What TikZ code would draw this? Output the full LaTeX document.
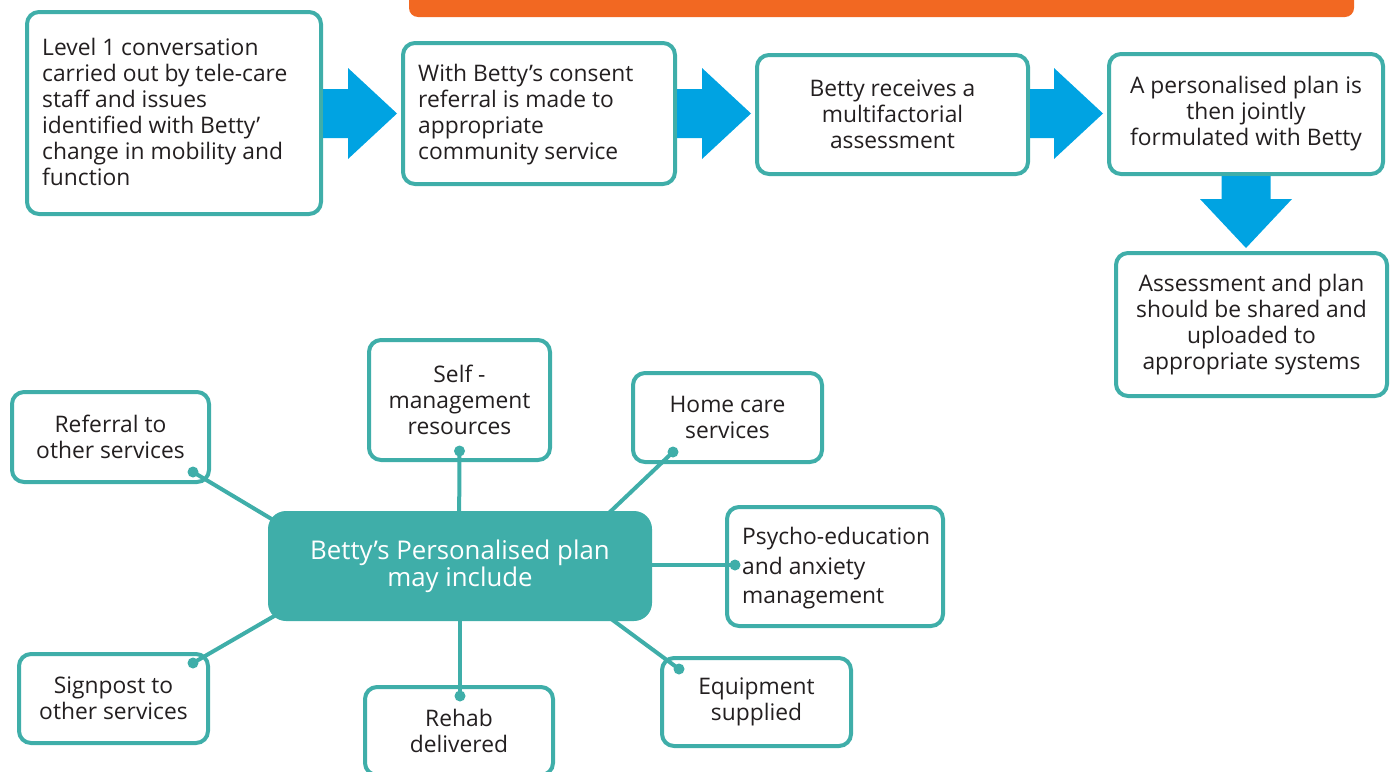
\documentclass[tikz,border=0pt]{standalone}
\usepackage{fontspec}
\setmainfont{Open Sans}
\usetikzlibrary{calc}
\definecolor{tealc}{HTML}{3FAEA9}
\definecolor{flowblue}{HTML}{00A3E2}
\definecolor{bannerorange}{HTML}{F26822}
\definecolor{ink}{HTML}{231F20}
\begin{document}
\begin{tikzpicture}[x=1pt,y=-1pt,
  card/.style={draw=tealc, line width=4pt, rounded corners=12pt, fill=white,
    text=ink, inner sep=0pt, align=center, font=\fontsize{22.8}{26}\selectfont},
  cardtext/.style={text=ink, inner sep=0pt, align=left, anchor=west,
    font=\fontsize{22.8}{26}\selectfont},
  hub/.style={fill=tealc, rounded corners=18pt, text=white, inner sep=0pt,
    align=center, font=\fontsize{25.8}{27}\selectfont},
  link/.style={draw=tealc, line width=4pt},
  linkdot/.style={circle, fill=tealc, inner sep=0pt, minimum size=11pt},
  flow/.style={fill=flowblue}]
\useasboundingbox (0,0) rectangle (1394,771);

% banner along the top edge
\fill[bannerorange, rounded corners=9pt] (409,-30) rectangle (1354,17);

% ---- process steps ----
\node[card, minimum width=294pt, minimum height=202pt] (b1) at (174,113) {};
\node[cardtext] (b1t) at ($(b1.west)+(17,-1)$)
  {Level 1 conversation\\carried out by tele-care\\staff and issues\\identified with Betty’\\change in mobility and\\function};
\node[card, minimum width=272pt, minimum height=141pt] (b2) at (539,113.5) {};
\node[cardtext] (b2t) at ($(b2.west)+(17,1)$)
  {With Betty’s consent\\referral is made to\\appropriate\\community service};
\node[card, minimum width=271pt, minimum height=119pt] (b3) at (892.5,114.5)
  {Betty receives a\\multifactorial\\assessment};
\node[card, minimum width=274pt, minimum height=120pt] (b4) at (1246,114)
  {A personalised plan is\\then jointly\\formulated with Betty};
\node[card, minimum width=271pt, minimum height=143pt] (b5) at (1251.5,324.5)
  {Assessment and plan\\should be shared and\\uploaded to\\appropriate systems};

% ---- block arrows between steps ----
\coordinate (flowline) at (0,113.5);
\foreach \a/\b in {b1/b2, b2/b3, b3/b4}{
  \fill[flow] let \p1=(\a.east), \p2=(\b.west), \p3=(flowline) in
    (\x1,\y3+24.5pt) -- (\x2-53pt,\y3+24.5pt) -- (\x2-53pt,\y3+45.5pt)
    -- (\x2-4pt,\y3) -- (\x2-53pt,\y3-45.5pt) -- (\x2-53pt,\y3-24.5pt)
    -- (\x1,\y3-24.5pt) -- cycle;
}
\fill[flow] let \p1=(b4.south), \p2=(b5.north) in
  (\x1-24.5pt,\y1) -- (\x1-24.5pt,\y2+52pt) -- (\x1-46pt,\y2+52pt)
  -- (\x1,\y2+3pt) -- (\x1+46pt,\y2+52pt) -- (\x1+24.5pt,\y2+52pt)
  -- (\x1+24.5pt,\y1) -- cycle;

% ---- what the plan may include ----
\node[card, minimum width=197pt, minimum height=90pt] (ref) at (110.5,437)
  {Referral to\\other services};
\node[card, minimum width=181pt, minimum height=120pt] (self) at (459.5,400)
  {Self -\\management\\resources};
\node[card, minimum width=189pt, minimum height=89pt] (home) at (727.5,417.5)
  {Home care\\services};
\node[card, minimum width=216pt, minimum height=119pt] (psy) at (835,566.5) {};
\node[cardtext, font=\fontsize{22.8}{29.5}\selectfont] (psyt) at ($(psy.west)+(17,2)$)
  {Psycho-education\\and anxiety\\management};
\node[card, minimum width=189pt, minimum height=88pt] (equip) at (756.5,702)
  {Equipment\\supplied};
\node[card, minimum width=188pt, minimum height=88pt] (rehab) at (459,731)
  {Rehab\\delivered};
\node[card, minimum width=189pt, minimum height=89pt] (sign) at (113.5,698.5)
  {Signpost to\\other services};

% connector ends inside each item
\coordinate (refdot)   at ($(ref.south east)+(-18,-12)$);
\coordinate (selfdot)  at ($(self.south)+(0,-11)$);
\coordinate (homedot)  at ($(home.south west)+(42,-12)$);
\coordinate (psydot)   at ($(psy.west)+(10,-1.5)$);
\coordinate (equipdot) at ($(equip.north west)+(19,13)$);
\coordinate (rehabdot) at ($(rehab.north)+(1,11)$);
\coordinate (signdot)  at ($(sign.north east)+(-17,11)$);

% connector ends tucked under the hub
\coordinate (hubref)   at (300,536);
\coordinate (hubself)  at (459,540);
\coordinate (hubhome)  at (590,531);
\coordinate (hubpsy)   at (630,565);
\coordinate (hubequip) at (595,607);
\coordinate (hubrehab) at (460,600);
\coordinate (hubsign)  at (295,604);

\foreach \d/\h in {refdot/hubref, selfdot/hubself, homedot/hubhome,
                   psydot/hubpsy, equipdot/hubequip, rehabdot/hubrehab,
                   signdot/hubsign}{
  \draw[link] (\d) -- (\h);
  \node[linkdot] at (\d) {};
}

\node[hub, minimum width=384pt, minimum height=110pt] (plan) at (460,566)
  {Betty’s Personalised plan\\may include};
\end{tikzpicture}
\end{document}
